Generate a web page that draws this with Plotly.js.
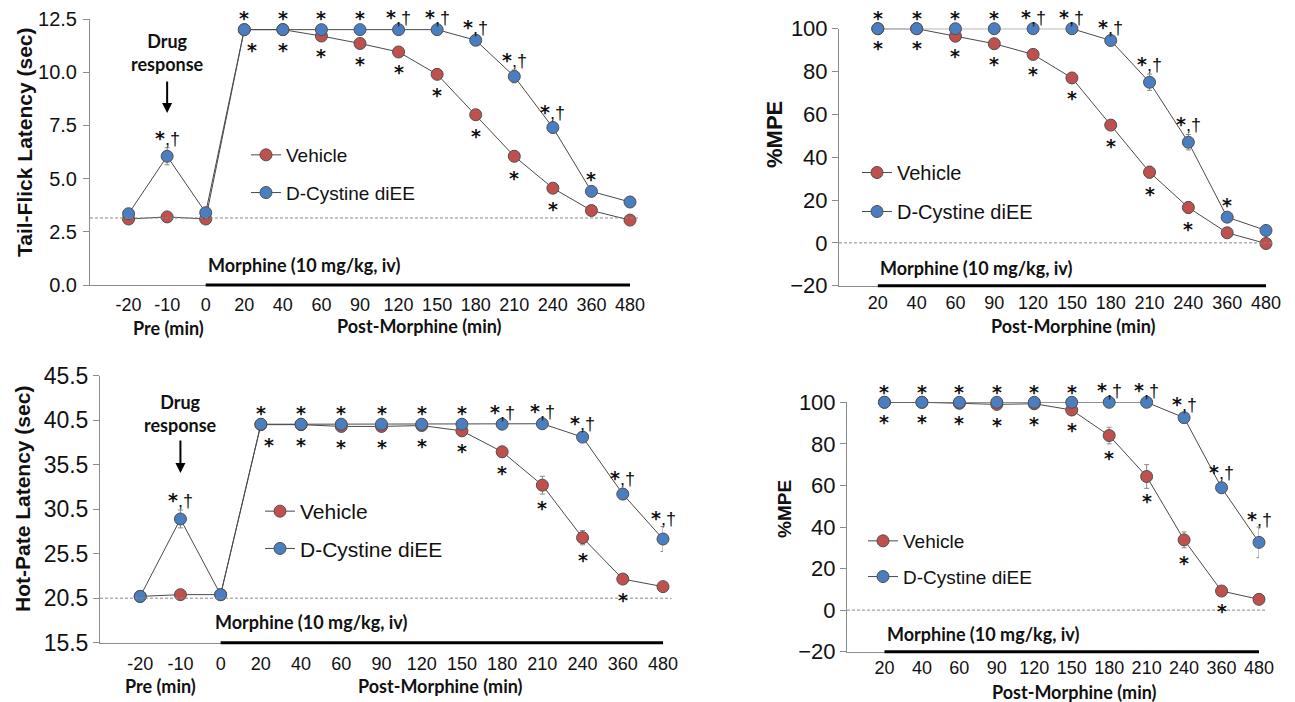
<!DOCTYPE html>
<html><head><meta charset="utf-8">
<script src="https://cdn.plot.ly/plotly-3.0.1.min.js"></script>
<style>html,body{margin:0;padding:0;background:#fff;}#chart{width:1295px;height:702px;}</style>
</head><body><div id="chart"></div>
<script>
// ---------------- DATA ----------------
const preCats  = ['-20','-10','0','20','40','60','90','120','150','180','210','240','360','480'];
const postCats = ['20','40','60','90','120','150','180','210','240','360','480'];
const seriesNames = ['Vehicle', 'D-Cystine diEE'];

// Tail-flick latency (sec)
const tfVehicle    = [3.10, 3.20, 3.10, 12.0, 12.0, 11.7, 11.35, 10.95, 9.90, 8.00, 6.05, 4.55, 3.50, 3.05];
const tfVehicleErr = [0.10, 0.10, 0.10, 0.05, 0.05, 0.10, 0.10, 0.10, 0.10, 0.15, 0.25, 0.15, 0.10, 0.10];
const tfDcy        = [3.35, 6.05, 3.40, 12.0, 12.0, 12.0, 12.0, 12.0, 12.0, 11.5, 9.80, 7.40, 4.40, 3.90];
const tfDcyErr     = [0.10, 0.40, 0.10, 0.05, 0.05, 0.05, 0.05, 0.05, 0.05, 0.10, 0.30, 0.25, 0.10, 0.10];
const tfVehicleSig = ['', '', '', '*','*','*','*','*','*','*','*','*','',''];
const tfDcySig     = ['', '*,†', '', '*','*','*','*','*,†','*,†','*,†','*,†','*,†','*',''];
const tfBaseline   = 3.15;

// Tail-flick %MPE
const tmVehicle    = [100, 100, 96.5, 93, 88, 77, 55, 33, 16.5, 4.7, -0.3];
const tmVehicleErr = [0, 0, 0.6, 0.6, 0.6, 1.0, 2.0, 2.8, 2.8, 1.0, 0.8];
const tmDcy        = [100, 100, 100, 100, 100, 100, 94.5, 75, 47, 12, 5.8];
const tmDcyErr     = [0, 0, 0, 0, 0, 0, 1.0, 3.8, 3.6, 1.2, 0.8];
const tmVehicleSig = ['*','*','*','*','*','*','*','*','*','',''];
const tmDcySig     = ['*','*','*','*','*,†','*,†','*,†','*,†','*,†','*',''];
const tmBaseline   = 0;

// Hot-plate latency (sec)
const hpVehicle    = [20.7, 20.9, 20.9, 40.0, 40.0, 39.8, 39.8, 39.9, 39.3, 36.95, 33.2, 27.3, 22.65, 21.8];
const hpVehicleErr = [0.2, 0.2, 0.2, 0.2, 0.2, 0.2, 0.2, 0.2, 0.3, 0.6, 1.0, 0.8, 0.3, 0.2];
const hpDcy        = [20.7, 29.4, 20.9, 40.05, 40.05, 40.05, 40.05, 40.05, 40.05, 40.05, 40.1, 38.6, 32.2, 27.15];
const hpDcyErr     = [0.2, 1.0, 0.2, 0.1, 0.1, 0.1, 0.1, 0.1, 0.1, 0.1, 0.1, 0.3, 0.6, 1.4];
const hpVehicleSig = ['', '', '', '*','*','*','*','*','*','*','*','*','*',''];
const hpDcySig     = ['', '*,†', '', '*','*','*','*','*','*','*,†','*,†','*,†','*,†','*,†'];
const hpBaseline   = 20.5;

// Hot-plate %MPE
const hmVehicle    = [100, 100, 99.5, 99, 99.3, 96.3, 84, 64.3, 33.8, 9.2, 5.2];
const hmVehicleErr = [0, 0, 0.5, 0.8, 0.5, 1.0, 4.0, 5.7, 3.8, 1.0, 0.8];
const hmDcy        = [100, 100, 100, 100, 100, 100, 100, 100, 92.6, 58.9, 32.6];
const hmDcyErr     = [0, 0, 0, 0, 0, 0, 0, 0, 1.0, 2.5, 7.4];
const hmVehicleSig = ['*','*','*','*','*','*','*','*','*','*',''];
const hmDcySig     = ['*','*','*','*','*','*','*,†','*,†','*,†','*,†','*,†'];
const hmBaseline   = 0;

const morphineLabel = 'Morphine (10 mg/kg, iv)';
const drugLabel = 'Drug<br>response';

// ---------------- LAYOUT HELPERS ----------------
const W = 1295, H = 702;
const PX = x => x / W, PY = y => 1 - y / H;
const RED = '#C0504D', BLUE = '#4A7EC0', AXIS = '#8c8c8c';
const SANS = 'Liberation Sans, Arial, sans-serif';
const BOLD2 = 'Lato, Open Sans, sans-serif';

const panels = [
  {cats: preCats, veh: tfVehicle, vehErr: tfVehicleErr, dcy: tfDcy, dcyErr: tfDcyErr,
   vehSig: tfVehicleSig, dcySig: tfDcySig, base: tfBaseline,
   yTitle: 'Tail-Flick Latency (sec)', yRange: [0, 12.5], tick0: 0, dtick: 2.5, fmt: '.1f',
   box: [90, 630, 19, 285], yTickSize: 20, yStand: 2, yTitleSize: 21, yTitlePos: [24, 142], xStand: 3,
   legend: {x: 246, y: 136, size: 19, gap: 10},
   morphStart: '0', morphText: [206, 265],
   pre: {text: 'Pre (min)', x: 168, y: 328}, post: {text: 'Post-Morphine (min)', x: 419, y: 326},
   drug: {cat: '-10', textY: 52, tipY: 113, tailY: 80}, redShift: {'20': 8}},
  {cats: postCats, veh: tmVehicle, vehErr: tmVehicleErr, dcy: tmDcy, dcyErr: tmDcyErr,
   vehSig: tmVehicleSig, dcySig: tmDcySig, base: tmBaseline,
   yTitle: '%MPE', yRange: [-20, 100], tick0: -20, dtick: 20, fmt: 'd',
   box: [839, 1266, 28.7, 285.7], yTickSize: 22, yStand: 0, yTitleSize: 22, yTitlePos: [774, 135], xStand: 1,
   legend: {x: 857, y: 153, size: 20, gap: 10},
   morphStart: '20', morphText: [878, 268],
   post: {text: 'Post-Morphine (min)', x: 1073, y: 326}, redShift: {}},
  {cats: preCats, veh: hpVehicle, vehErr: hpVehicleErr, dcy: hpDcy, dcyErr: hpDcyErr,
   vehSig: hpVehicleSig, dcySig: hpDcySig, base: hpBaseline,
   yTitle: 'Hot-Pate Latency (sec)', yRange: [15.5, 45.5], tick0: 15.5, dtick: 5, fmt: '.1f',
   box: [100, 663, 375.7, 642.7], yTickSize: 23, yStand: 0, yTitleSize: 21, yTitlePos: [23, 499], xStand: 5,
   legend: {x: 260, y: 491, size: 21, gap: 7},
   morphStart: '0', morphText: [213, 622],
   pre: {text: 'Pre (min)', x: 160, y: 686}, post: {text: 'Post-Morphine (min)', x: 440, y: 686},
   drug: {cat: '-10', textY: 413, tipY: 473, tailY: 439}, redShift: {'20': 8}},
  {cats: postCats, veh: hmVehicle, vehErr: hmVehicleErr, dcy: hmDcy, dcyErr: hmDcyErr,
   vehSig: hmVehicleSig, dcySig: hmDcySig, base: hmBaseline,
   yTitle: '%MPE', yRange: [-20, 100], tick0: -20, dtick: 20, fmt: 'd',
   box: [847, 1259, 402.3, 651.7], yTickSize: 22, yStand: 0, yTitleSize: 19, yTitlePos: [784, 509], xStand: 0,
   legend: {x: 863, y: 522, size: 19, gap: 8},
   morphStart: '20', morphText: [885, 634],
   post: {text: 'Post-Morphine (min)', x: 1074, y: 692}, redShift: {}}
];

const traces = [], annotations = [], shapes = [];
const layout = {
  width: W, height: H, margin: {l: 0, r: 0, t: 0, b: 0},
  paper_bgcolor: '#fff', plot_bgcolor: '#fff', showlegend: true,
  font: {family: SANS, color: '#000'}
};

// significance text: bold DejaVu asterisk, Liberation ",†"
const sigText = s => s.split(',').map((t, i) => i === 0 ? '<b>' + t + '</b>'
  : '<span style="font-family:Liberation Sans;font-size:18px">,' + t + '</span>').join('');

panels.forEach((p, k) => {
  const n = k === 0 ? '' : String(k + 1);
  const xa = 'x' + n, ya = 'y' + n, lg = 'legend' + n;
  const [x0, x1, yT, yB] = p.box;
  const idx = p.cats.map((_, i) => i);          // category positions on the axis
  const pos = c => p.cats.indexOf(c);
  const pxPerUnit = (yB - yT) / (p.yRange[1] - p.yRange[0]);
  layout['xaxis' + n] = {
    type: 'linear', tickmode: 'array', tickvals: idx, ticktext: p.cats,
    domain: [PX(x0), PX(x1)], range: [-1, p.cats.length - 1], anchor: ya,
    showline: true, linecolor: AXIS, linewidth: 1, ticks: '', showgrid: false, zeroline: false,
    tickfont: {size: 18, family: SANS, color: '#111'}, ticklabelstandoff: p.xStand, fixedrange: true
  };
  layout['yaxis' + n] = {
    domain: [PY(yB), PY(yT)], range: p.yRange, anchor: xa,
    tick0: p.tick0, dtick: p.dtick, tickformat: p.fmt, ticklabelstandoff: p.yStand,
    showline: true, linecolor: AXIS, linewidth: 1, ticks: 'outside', ticklen: 6, tickcolor: AXIS,
    showgrid: false, zeroline: false, tickfont: {size: p.yTickSize, family: SANS, color: '#111'},
    fixedrange: true
  };
  layout[lg] = {
    x: PX(p.legend.x), y: PY(p.legend.y), xanchor: 'left', yanchor: 'top',
    bgcolor: 'rgba(0,0,0,0)', font: {size: p.legend.size, family: SANS, color: '#111'},
    traceorder: 'grouped', tracegroupgap: p.legend.gap, itemclick: false, itemdoubleclick: false
  };
  const series = [
    {name: seriesNames[0], y: p.veh, err: p.vehErr, color: RED},
    {name: seriesNames[1], y: p.dcy, err: p.dcyErr, color: BLUE}
  ];
  series.forEach((s, j) => {
    traces.push({
      type: 'scatter', mode: 'lines+markers', name: s.name, x: idx, y: s.y,
      text: p.cats, hovertemplate: '%{text}: %{y}<extra>' + s.name + '</extra>',
      xaxis: xa, yaxis: ya, legend: lg, legendgroup: 'g' + k + '_' + j, cliponaxis: false,
      line: {color: '#4a4a4a', width: 1},
      marker: {size: 12, color: s.color, line: {color: '#505050', width: 1}},
      error_y: {type: 'data', array: s.err, visible: true, color: '#8a8a8a', thickness: 1, width: 2.5}
    });
  });
  // baseline (dashed)
  shapes.push({type: 'line', xref: xa + ' domain', x0: 0, x1: 1.015, yref: ya, y0: p.base, y1: p.base,
               line: {color: '#8a8a8a', width: 1, dash: '3px,2px'}});
  // morphine bar along the x axis
  shapes.push({type: 'line', xref: xa, x0: pos(p.morphStart), x1: p.cats.length - 1,
               yref: ya + ' domain', y0: 0, y1: 0, line: {color: '#000', width: 3}});
  // text labels
  const boldFont = (sz) => ({family: BOLD2, size: sz, color: '#111', weight: 'bold'});
  annotations.push({xref: 'paper', yref: 'paper', x: PX(p.morphText[0]), y: PY(p.morphText[1]),
    xanchor: 'left', yanchor: 'middle', showarrow: false, text: '<b>' + morphineLabel + '</b>', font: boldFont(18)});
  if (p.pre) annotations.push({xref: 'paper', yref: 'paper', x: PX(p.pre.x), y: PY(p.pre.y),
    xanchor: 'center', yanchor: 'middle', showarrow: false, text: '<b>' + p.pre.text + '</b>', font: boldFont(18)});
  annotations.push({xref: 'paper', yref: 'paper', x: PX(p.post.x), y: PY(p.post.y),
    xanchor: 'center', yanchor: 'middle', showarrow: false, text: '<b>' + p.post.text + '</b>', font: boldFont(18)});
  annotations.push({xref: 'paper', yref: 'paper', x: PX(p.yTitlePos[0]), y: PY(p.yTitlePos[1]),
    xanchor: 'center', yanchor: 'middle', textangle: -90, showarrow: false,
    text: '<b>' + p.yTitle + '</b>', font: {family: SANS, size: p.yTitleSize, color: '#111'}});
  if (p.drug) {
    annotations.push({xref: xa, yref: 'paper', x: pos(p.drug.cat), y: PY(p.drug.textY),
      xanchor: 'center', yanchor: 'middle', showarrow: false, text: '<b>' + drugLabel + '</b>',
      font: boldFont(18), align: 'center'});
    annotations.push({xref: xa, yref: 'paper', x: pos(p.drug.cat), y: PY(p.drug.tipY), text: '',
      showarrow: true, axref: 'pixel', ayref: 'pixel', ax: 0, ay: -(p.drug.tipY - p.drug.tailY),
      arrowhead: 2, arrowsize: 1, arrowwidth: 2, arrowcolor: '#000'});
  }
  // significance marks (placed clear of the error bars)
  const starFont = {family: 'DejaVu Sans', size: 19, color: '#111'};
  p.cats.forEach((c, i) => {
    if (p.dcySig[i]) annotations.push({xref: xa, yref: ya, x: i, y: p.dcy[i], text: sigText(p.dcySig[i]),
      showarrow: false, xanchor: 'center', yanchor: 'middle',
      yshift: 10.5 + 0.75 * p.dcyErr[i] * pxPerUnit + (p.dcySig[i].length > 1 ? 1.5 : 0),
      font: starFont});
    if (p.vehSig[i]) annotations.push({xref: xa, yref: ya, x: i, y: p.veh[i], text: sigText(p.vehSig[i]),
      showarrow: false, xanchor: 'center', yanchor: 'middle',
      yshift: -(19.5 + 0.4 * p.vehErr[i] * pxPerUnit),
      xshift: p.redShift[c] || 0, font: starFont});
  });
});

layout.annotations = annotations;
layout.shapes = shapes;
Plotly.newPlot('chart', traces, layout, {displayModeBar: false});
</script></body></html>
